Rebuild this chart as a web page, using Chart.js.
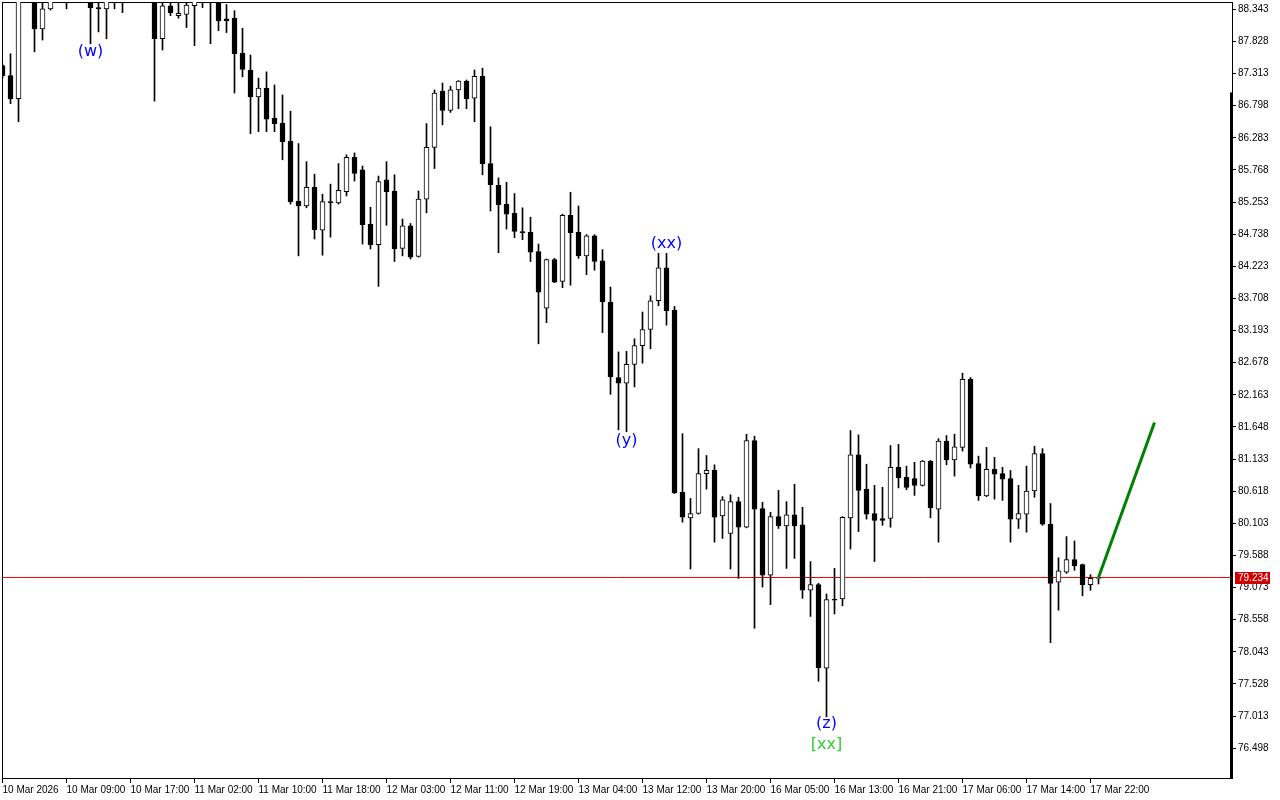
<!DOCTYPE html>
<html>
<head>
<meta charset="utf-8">
<title>H1 candles</title>
<script src="https://cdn.jsdelivr.net/npm/chart.js@4.4.1/dist/chart.umd.min.js"></script>
<style>
  html, body { margin: 0; padding: 0; background: #fff; }
  canvas { display: block; }
</style>
</head>
<body>
<canvas id="chart" width="1280" height="800"></canvas>
<script>
// hourly bars, 10 Mar 01:00 .. 17 Mar 23:00 (bar number = index)
// bars 3, 7, 9, 10, 16-18 sit above the visible window
const opens = [
  87.44, 87.28, 86.91, 88.60, 88.65, 88.03, 88.35, 88.55, 88.70, 88.60,
  88.80, 88.62, 88.37, 88.35, 88.52, 88.60, 88.55, 88.78, 88.70, 88.60,
  87.87, 88.40, 88.24, 88.26, 88.40, 88.52, 88.60, 88.52, 88.19, 88.20,
  87.64, 87.37, 86.94, 87.08, 86.60, 86.52, 86.23, 85.27, 85.19, 85.49,
  84.80, 85.26, 85.24, 85.42, 85.97, 85.77, 84.90, 84.57, 85.61, 85.43,
  84.51, 84.87, 84.38, 85.30, 86.13, 87.03, 86.72, 87.05, 87.19, 86.92,
  87.27, 85.87, 85.52, 85.22, 85.07, 84.78, 84.77, 84.46, 83.55, 84.33,
  83.98, 85.04, 84.77, 84.39, 84.71, 84.31, 83.65, 82.44, 82.35, 82.65,
  82.95, 83.21, 83.67, 84.20, 83.52, 80.60, 80.19, 80.26, 80.90, 80.95,
  80.22, 79.94, 80.45, 80.04, 81.43, 80.34, 79.27, 80.21, 80.06, 80.24,
  80.08, 79.03, 79.12, 77.78, 78.89, 78.89, 80.19, 81.20, 80.65, 80.26,
  80.18, 80.18, 81.00, 80.84, 80.82, 80.71, 81.10, 80.33, 81.42, 81.12,
  81.32, 82.41, 81.06, 80.54, 80.97, 80.90, 80.82, 80.17, 80.25, 80.62,
  81.22, 80.09, 79.16, 79.32, 79.52, 79.44, 79.12, 79.22
];
const highs = [
  87.47, 87.63, 88.70, 88.85, 88.75, 88.50, 88.58, 88.80, 88.85, 88.90,
  88.95, 88.70, 88.55, 88.60, 88.70, 88.75, 88.85, 88.95, 88.85, 88.65,
  88.50, 88.45, 88.44, 88.46, 88.60, 88.70, 88.70, 88.60, 88.42, 88.32,
  88.04, 87.61, 87.24, 87.34, 87.13, 86.97, 86.71, 86.19, 85.90, 85.70,
  85.38, 85.54, 85.87, 86.01, 86.04, 85.83, 85.17, 85.67, 85.90, 85.69,
  84.98, 84.91, 85.43, 86.51, 87.05, 87.16, 87.11, 87.20, 87.21, 87.37,
  87.40, 86.46, 85.64, 85.57, 85.39, 85.16, 85.01, 84.58, 84.34, 84.35,
  85.06, 85.41, 85.19, 84.73, 84.73, 84.49, 83.89, 82.85, 82.86, 83.06,
  83.49, 83.75, 84.43, 84.43, 83.58, 81.54, 80.50, 81.30, 81.19, 81.04,
  80.53, 80.56, 80.52, 81.53, 81.50, 80.44, 80.28, 80.63, 80.45, 80.73,
  80.36, 79.49, 79.14, 78.97, 79.38, 80.21, 81.59, 81.52, 81.05, 80.71,
  80.68, 81.35, 81.37, 81.02, 81.08, 81.11, 81.11, 81.46, 81.51, 81.53,
  82.51, 82.44, 81.18, 81.32, 81.16, 81.00, 80.95, 80.71, 81.02, 81.34,
  81.30, 80.42, 79.55, 79.89, 79.82, 79.45, 79.28, 79.25
];
const lows = [
  87.24, 86.83, 86.54, 88.52, 87.66, 87.85, 88.33, 88.50, 88.35, 88.52,
  88.55, 87.79, 87.98, 87.87, 88.35, 88.29, 88.50, 88.60, 88.52, 86.87,
  87.69, 88.24, 88.20, 88.05, 87.76, 88.37, 87.79, 88.00, 87.97, 87.00,
  87.26, 86.35, 86.38, 86.38, 86.38, 85.93, 85.22, 84.39, 85.16, 84.66,
  84.40, 84.69, 85.22, 85.35, 85.59, 84.58, 84.50, 83.90, 84.88, 84.30,
  84.39, 84.34, 84.37, 85.08, 85.79, 86.49, 86.69, 86.75, 86.75, 86.54,
  85.69, 85.11, 84.44, 84.82, 84.68, 84.65, 84.30, 82.98, 83.32, 83.96,
  83.88, 83.92, 84.35, 84.09, 84.16, 83.16, 82.17, 81.60, 81.57, 82.29,
  82.67, 82.90, 83.59, 83.28, 80.58, 80.12, 79.37, 80.25, 80.65, 79.80,
  79.86, 79.37, 79.22, 80.03, 78.42, 79.08, 78.80, 80.02, 79.38, 79.54,
  78.90, 78.61, 77.57, 77.00, 78.65, 78.78, 79.69, 79.97, 80.17, 79.49,
  80.07, 80.04, 80.67, 80.64, 80.55, 80.70, 80.19, 79.80, 81.04, 80.86,
  81.26, 80.99, 80.47, 80.53, 80.49, 80.47, 79.80, 80.02, 79.96, 80.52,
  80.07, 78.19, 78.71, 79.30, 79.35, 78.94, 79.03, 79.13
];
const closes = [
  87.28, 86.91, 88.60, 88.75, 88.03, 88.35, 88.50, 88.70, 88.60, 88.80,
  88.62, 88.37, 88.35, 88.52, 88.60, 88.55, 88.78, 88.70, 88.60, 87.87,
  88.40, 88.29, 88.28, 88.41, 88.52, 88.60, 88.52, 88.16, 88.16, 87.63,
  87.38, 86.94, 87.08, 86.58, 86.51, 86.22, 85.26, 85.19, 85.49, 84.81,
  85.26, 85.24, 85.44, 85.97, 85.71, 84.89, 84.57, 85.58, 85.42, 84.50,
  84.87, 84.37, 85.30, 86.13, 87.00, 86.72, 87.05, 87.19, 86.91, 87.27,
  85.87, 85.53, 85.21, 85.06, 84.78, 84.76, 84.45, 83.81, 84.33, 83.97,
  85.04, 84.76, 84.39, 84.71, 84.30, 83.65, 82.45, 82.35, 82.65, 82.95,
  83.21, 83.67, 84.20, 83.51, 80.59, 80.20, 80.26, 80.90, 80.95, 80.20,
  80.48, 80.45, 80.04, 81.43, 80.33, 79.27, 80.21, 80.06, 80.24, 80.06,
  79.03, 79.12, 77.79, 78.88, 78.87, 80.20, 81.20, 80.63, 80.25, 80.15,
  80.15, 81.00, 80.83, 80.68, 80.71, 81.10, 80.35, 81.42, 81.12, 81.33,
  82.41, 81.05, 80.54, 80.97, 80.89, 80.81, 80.17, 80.26, 80.62, 81.22,
  80.09, 79.14, 79.34, 79.52, 79.42, 79.12, 79.22, 79.234
];

const timeTickIdx = [0, 8, 16, 24, 32, 40, 48, 56, 64, 72, 80, 88, 96, 104, 112, 120, 128, 136];
const timeTickLabels = [
  '10 Mar 2026', '10 Mar 09:00', '10 Mar 17:00', '11 Mar 02:00', '11 Mar 10:00',
  '11 Mar 18:00', '12 Mar 03:00', '12 Mar 11:00', '12 Mar 19:00', '13 Mar 04:00',
  '13 Mar 12:00', '13 Mar 20:00', '16 Mar 05:00', '16 Mar 13:00', '16 Mar 21:00',
  '17 Mar 06:00', '17 Mar 14:00', '17 Mar 22:00'
];
const priceTicks = [
  88.343, 87.828, 87.313, 86.798, 86.283, 85.768, 85.253, 84.738, 84.223, 83.708,
  83.193, 82.678, 82.163, 81.648, 81.133, 80.618, 80.103, 79.588, 79.073, 78.558,
  78.043, 77.528, 77.013, 76.498
];

const lastPrice = 79.234;
const forecastIdx = [137, 144];
const forecastPrice = [79.234, 81.72];

const waveLabels = ['(w)', '(xx)', '(y)', '(z)', '[xx]'];
const waveIdx = [11, 83, 78, 103, 103];
const wavePrice = [87.66, 84.58, 81.43, 76.89, 76.55];

const sideBarTop = 87.01;   // thick marker on the right edge

// visible window
const xMin = -0.0625, xMax = 153.6875;
const yMin = 76.0198, yMax = 88.4597;

const isUp = i => closes[i] >= opens[i];
const wickData = opens.map((_, i) => ({ x: i, y: [lows[i], highs[i]] }));
const bodyData = opens.map((_, i) => ({ x: i, y: [opens[i], closes[i]] }));

// frame, bid line, wave marks, bid tag
const decorPlugin = {
    id: 'decor',
    beforeDatasetsDraw(chart) {
        const { ctx, chartArea: a, scales } = chart;
        ctx.save();
        ctx.strokeStyle = '#000';
        ctx.lineWidth = 1;
        ctx.strokeRect(a.left + 0.5, a.top + 0.5, a.right - a.left, a.bottom - a.top);
        const yt = scales.y.getPixelForValue(sideBarTop);
        ctx.fillStyle = '#000';
        ctx.fillRect(a.right - 2, yt, 3, a.bottom - yt + 1);

        // bid line
        const yb = Math.floor(scales.y.getPixelForValue(lastPrice)) + 0.5;
        ctx.strokeStyle = '#ff0000';
        ctx.beginPath();
        ctx.moveTo(a.left + 1, yb);
        ctx.lineTo(a.right - 2, yb);
        ctx.stroke();
        ctx.restore();
    },
    afterDatasetsDraw(chart) {
        const { ctx, scales } = chart;
        ctx.save();
        ctx.font = '16px "DejaVu Sans"';
        ctx.textAlign = 'center';
        ctx.textBaseline = 'middle';
        waveLabels.forEach((t, i) => {
            ctx.fillStyle = t.startsWith('[') ? '#33cc33' : '#0000ff';
            ctx.fillText(t, scales.x.getPixelForValue(waveIdx[i]), scales.y.getPixelForValue(wavePrice[i]));
        });
        ctx.restore();
    },
    afterDraw(chart) {
        const { ctx, chartArea: a, scales } = chart;
        const y = Math.floor(scales.y.getPixelForValue(lastPrice));
        ctx.save();
        ctx.fillStyle = '#d00000';
        ctx.fillRect(a.right + 3, y - 5, 35, 12);
        ctx.fillStyle = '#fff';
        ctx.font = '10px "Liberation Sans"';
        ctx.textBaseline = 'middle';
        ctx.fillText(lastPrice.toFixed(3), a.right + 6, y + 1.5);
        ctx.restore();
    }
};

const ctx = document.getElementById('chart').getContext('2d');

new Chart(ctx, {
    type: 'bar',
    data: {
        datasets: [
            {
                label: 'wicks',
                data: wickData,
                backgroundColor: '#000',
                barThickness: 1,
                grouped: false,
                clip: 0,
                order: 4,
            },
            {
                label: 'bodies',
                data: bodyData,
                backgroundColor: c => isUp(c.dataIndex) ? '#fff' : '#000',
                borderColor: '#000',
                borderWidth: 1,
                borderSkipped: false,
                barThickness: 5,
                minBarLength: 1,
                grouped: false,
                clip: 0,
                order: 3,
            },
            {
                type: 'line',
                label: 'forecast',
                data: forecastIdx.map((x, i) => ({ x: x, y: forecastPrice[i] })),
                borderColor: '#008000',
                borderWidth: 3,
                pointRadius: 0,
                order: 1,
            },
        ],
    },
    options: {
        responsive: false,
        animation: false,
        events: [],
        layout: { padding: { left: 2, top: 2, right: 0, bottom: 0 } },
        plugins: {
            legend: { display: false },
            tooltip: { enabled: false },
        },
        scales: {
            x: {
                type: 'linear',
                min: xMin,
                max: xMax,
                offset: false,
                border: { display: false },
                grid: { offset: false, drawOnChartArea: false, drawTicks: true, tickLength: 5, color: '#000' },
                afterBuildTicks: s => { s.ticks = timeTickIdx.map(v => ({ value: v })); },
                afterFit: s => { s.height = 22; s.paddingLeft = 0; s.paddingRight = 0; },
                ticks: {
                    autoSkip: false,
                    maxRotation: 0,
                    minRotation: 0,
                    align: 'start',
                    padding: 1,
                    color: '#000',
                    font: { family: 'Liberation Sans', size: 10 },
                    callback: v => timeTickLabels[timeTickIdx.indexOf(v)] || '',
                },
            },
            y: {
                type: 'linear',
                position: 'right',
                min: yMin,
                max: yMax,
                border: { display: false },
                grid: { drawOnChartArea: false, drawTicks: true, tickLength: 4, color: '#000' },
                afterBuildTicks: s => { s.ticks = priceTicks.map(v => ({ value: v })); },
                afterFit: s => { s.width = 48; s.paddingTop = 0; s.paddingBottom = 0; },
                ticks: {
                    padding: 2,
                    color: '#000',
                    font: { family: 'Liberation Sans', size: 10 },
                    callback: v => v.toFixed(3),
                },
            },
        },
    },
    plugins: [decorPlugin],
});
</script>
</body>
</html>
